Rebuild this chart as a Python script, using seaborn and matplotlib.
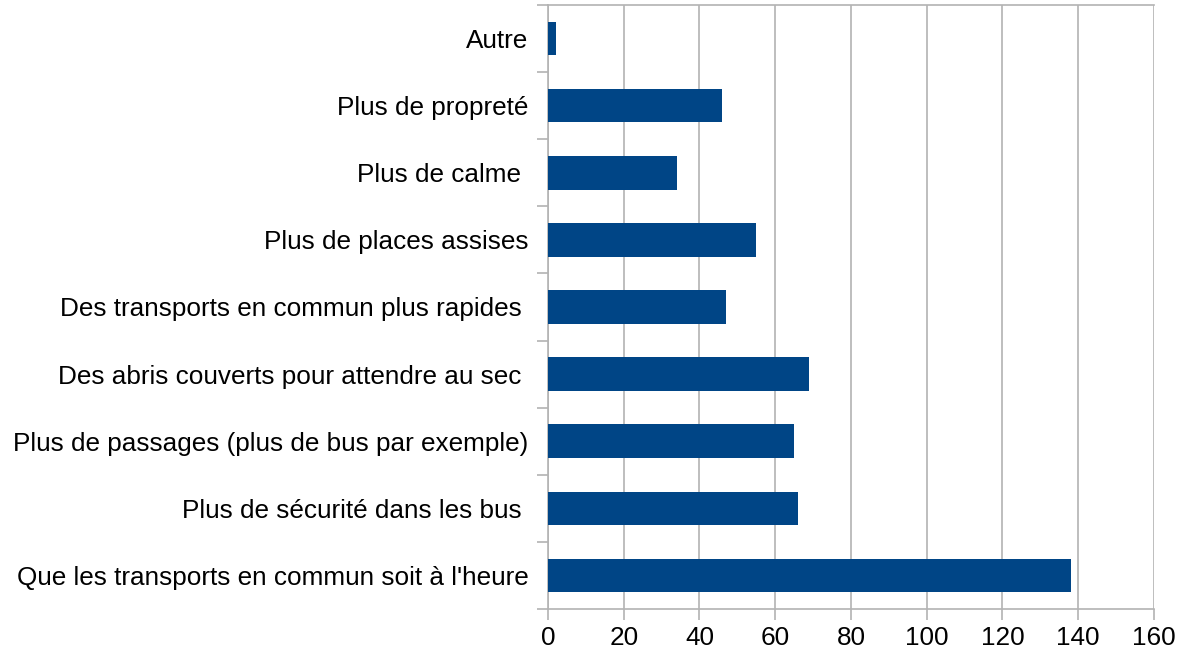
import numpy as np
import pandas as pd
import seaborn as sns
import matplotlib.pyplot as plt
from matplotlib.ticker import FixedLocator

# Data
categories = [
    "Autre",
    "Plus de propreté",
    "Plus de calme ",
    "Plus de places assises",
    "Des transports en commun plus rapides ",
    "Des abris couverts pour attendre au sec ",
    "Plus de passages (plus de bus par exemple)",
    "Plus de sécurité dans les bus ",
    "Que les transports en commun soit à l'heure",
]
values = [2, 46, 34, 55, 47, 69, 65, 66, 138]
xticks = [0, 20, 40, 60, 80, 100, 120, 140, 160]

df = pd.DataFrame({"cat": categories, "val": values})

sns.set_style("white")
plt.rcParams["font.family"] = ["Liberation Sans", "DejaVu Sans"]

fig = plt.figure(figsize=(11.78, 6.55), dpi=100)
ax = fig.add_axes([0.4652, 0.0702, 0.5144, 0.9222])

sns.barplot(data=df, x="val", y="cat", order=categories, color="#004586",
            width=0.5, saturation=1, linewidth=0, ax=ax, zorder=3)

grid_col = "#b3b3b3"
ax.set_xlim(0, 160)
ax.set_ylim(len(categories) - 0.5, -0.5)
ax.set_xticks(xticks)
ax.set_xticklabels([str(t) for t in xticks])
ax.xaxis.grid(True, color=grid_col, linewidth=1.2, zorder=0)
ax.set_axisbelow(True)

ax.yaxis.set_minor_locator(FixedLocator(np.arange(-0.5, len(categories), 1.0)))
ax.tick_params(axis="y", which="major", length=0, pad=14, labelsize=18.8, labelcolor="black")
ax.tick_params(axis="y", which="minor", length=8, color=grid_col, width=1.2, left=True)
ax.tick_params(axis="x", which="major", length=8, color=grid_col, width=1.2, pad=4,
               labelsize=18.8, labelcolor="black", bottom=True)

for side in ["left", "bottom", "top"]:
    ax.spines[side].set_visible(True)
    ax.spines[side].set_color(grid_col)
    ax.spines[side].set_linewidth(1.2)
ax.spines["right"].set_visible(False)

ax.set_xlabel("")
ax.set_ylabel("")

fig.savefig("out.png", dpi=100)
